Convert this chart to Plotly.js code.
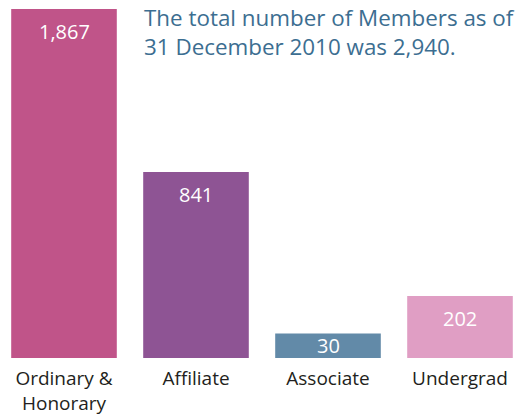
<!DOCTYPE html>
<html>
<head>
<meta charset="utf-8">
<script src="https://cdn.plot.ly/plotly-3.0.1.min.js"></script>
<style>html,body{margin:0;padding:0;background:#fff;}#chart{width:523px;height:415px;}</style>
</head>
<body>
<div id="chart"></div>
<script>
// Member categories and counts (labels shown on bars)
var categories = ["Ordinary &<br>Honorary", "Affiliate", "Associate", "Undergrad"];
var memberCounts = [1867, 841, 30, 202];
// Bar lengths as drawn in the (non-proportional) infographic, in member-count units
var barLengths = [1867, 995, 131, 332];
var barColors = ["#C05489", "#8E5494", "#628AA8", "#E09EC4"];
var titleLines = ["The total number of Members as of", "31 December 2010 was 2,940."];

var W = 523, H = 415;
var margin = {l: 0, r: 0, t: 0, b: 57};
var plotH = H - margin.t - margin.b;
var yMax = 1915;

var trace = {
  type: "bar",
  x: [0, 1, 2, 3],
  y: barLengths,
  width: 0.8,
  marker: {color: barColors, line: {width: 0}},
  hoverinfo: "skip"
};

var annotations = memberCounts.map(function (v, i) {
  var hPx = barLengths[i] / yMax * plotH;
  return {
    x: i, y: barLengths[i], xref: "x", yref: "y",
    text: v.toLocaleString("en-US"),
    showarrow: false,
    yanchor: "middle",
    yshift: -Math.min(23, hPx / 2),
    font: {family: "Open Sans, sans-serif", size: 20, color: "#ffffff"}
  };
});

annotations.push({
  xref: "paper", yref: "paper",
  x: 142 / W, y: 1.0,
  xanchor: "left", yanchor: "top",
  align: "left",
  showarrow: false,
  text: titleLines.join("<br>"),
  font: {family: "Open Sans, sans-serif", size: 22.4, color: "#3C6E91"}
});

var layout = {
  width: W, height: H,
  margin: margin,
  paper_bgcolor: "#ffffff",
  plot_bgcolor: "#ffffff",
  showlegend: false,
  xaxis: {
    range: [-64 / 132, -64 / 132 + W / 132],
    tickmode: "array",
    tickvals: [0, 1, 2, 3],
    ticktext: categories,
    showgrid: false, zeroline: false, showline: false,
    ticks: "", ticklen: 0,
    ticklabelstandoff: 7,
    tickfont: {family: "Open Sans, sans-serif", size: 19, color: "#231F20"},
    fixedrange: true
  },
  yaxis: {
    range: [0, yMax],
    visible: false,
    fixedrange: true
  },
  annotations: annotations
};

Plotly.newPlot("chart", [trace], layout, {displayModeBar: false, staticPlot: true});
</script>
</body>
</html>
